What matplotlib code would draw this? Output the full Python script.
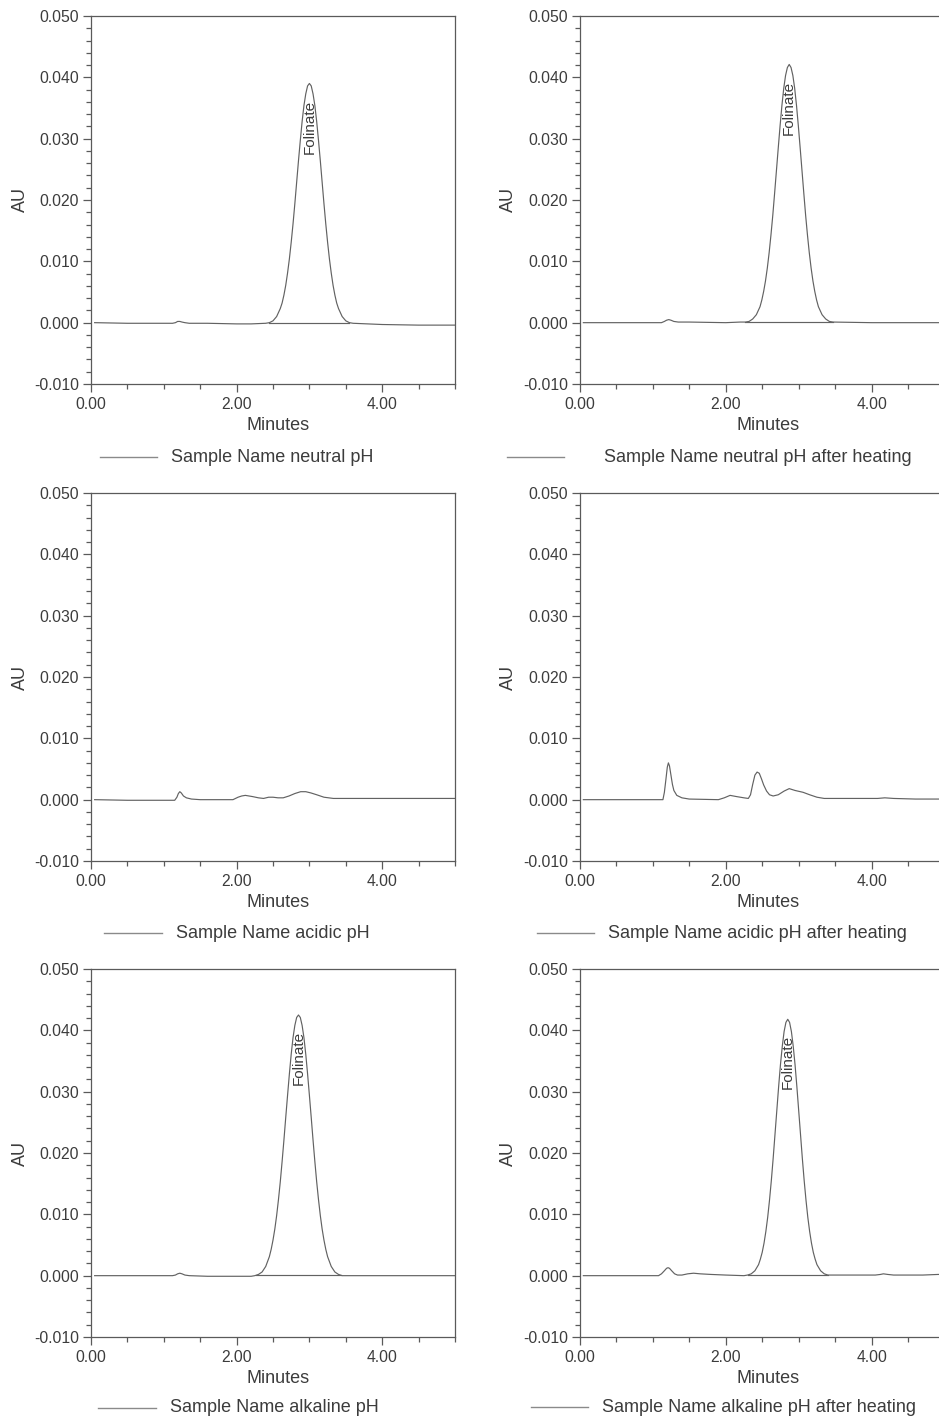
import numpy as np
import matplotlib
matplotlib.use("Agg")
import matplotlib.pyplot as plt
from matplotlib.lines import Line2D
from matplotlib.ticker import MultipleLocator, FormatStrFormatter

plt.rcParams['font.family'] = ['Liberation Sans', 'DejaVu Sans']

# ---------------- data ----------------
sample_names = ["neutral pH", "neutral pH after heating",
                "acidic pH", "acidic pH after heating",
                "alkaline pH", "alkaline pH after heating"]

# Panel 1: neutral pH
t_neutral = [0.05, 0.5, 1.0, 1.12, 1.16, 1.19, 1.22, 1.25, 1.29, 1.35, 1.6, 2.0, 2.2, 2.40,
             2.45, 2.50, 2.55, 2.60, 2.625, 2.65, 2.675, 2.70, 2.725, 2.75, 2.775, 2.80, 2.825,
             2.85, 2.875, 2.90, 2.925, 2.95, 2.975, 3.00,
             3.025, 3.05, 3.075, 3.10, 3.125, 3.15, 3.175, 3.20, 3.225, 3.25, 3.275, 3.30,
             3.325, 3.35, 3.375, 3.40, 3.45, 3.50, 3.55, 3.60,
             4.0, 4.5, 5.0]
au_neutral = [0.0000, -0.0001, -0.0001, -0.0001, 0.0000, 0.0002, 0.0002, 0.0001, 0.0000, -0.0001, -0.0001, -0.0002, -0.0002, -0.0001,
              0.0000, 0.0003, 0.0010, 0.0023, 0.0032, 0.0045, 0.0061, 0.0081, 0.0104, 0.0131, 0.0161, 0.0194, 0.0229,
              0.0264, 0.0297, 0.0328, 0.0354, 0.0373, 0.0386, 0.0390,
              0.0386, 0.0373, 0.0354, 0.0328, 0.0297, 0.0264, 0.0229, 0.0194, 0.0161, 0.0131, 0.0104, 0.0081,
              0.0061, 0.0045, 0.0032, 0.0023, 0.0010, 0.0003, 0.0000, -0.0001,
              -0.0003, -0.0004, -0.0004]

# Panel 2: neutral pH after heating
t_neutral_h = [0.05, 0.5, 1.0, 1.12, 1.16, 1.19, 1.22, 1.25, 1.29, 1.35, 1.5, 2.0, 2.2,
               2.27, 2.32, 2.37, 2.42, 2.47, 2.495, 2.52, 2.545, 2.57, 2.595, 2.62, 2.645, 2.67,
               2.695, 2.72, 2.745, 2.77, 2.795, 2.82, 2.845, 2.87,
               2.895, 2.92, 2.945, 2.97, 2.995, 3.02, 3.045, 3.07, 3.095, 3.12, 3.145, 3.17,
               3.195, 3.22, 3.245, 3.27, 3.32, 3.37, 3.42, 3.47,
               4.0, 4.5, 5.0]
au_neutral_h = [0.0000, 0.0000, 0.0000, 0.0000, 0.0002, 0.0004, 0.0005, 0.0004, 0.0002, 0.0001, 0.0001, 0.0000, 0.0001,
                0.0001, 0.0002, 0.0006, 0.0013, 0.0026, 0.0037, 0.0051, 0.0068, 0.0089, 0.0114, 0.0143, 0.0175, 0.0211,
                0.0248, 0.0285, 0.0321, 0.0354, 0.0382, 0.0403, 0.0416, 0.0421,
                0.0416, 0.0403, 0.0382, 0.0354, 0.0321, 0.0285, 0.0248, 0.0211, 0.0175, 0.0143, 0.0114, 0.0089,
                0.0068, 0.0051, 0.0037, 0.0026, 0.0013, 0.0006, 0.0002, 0.0001,
                0.0000, 0.0000, 0.0000]

# Panel 3: acidic pH
t_acidic = [0.05, 0.5, 1.0, 1.15, 1.18, 1.20, 1.22, 1.24, 1.27, 1.31, 1.38, 1.5, 1.8, 1.95,
            2.02, 2.07, 2.12, 2.17, 2.22, 2.30, 2.37, 2.44, 2.50, 2.57, 2.64, 2.72, 2.80, 2.88,
            2.95, 3.02, 3.10, 3.20, 3.33, 3.6, 4.0, 4.5, 5.0]
au_acidic = [0.0000, -0.0001, -0.0001, -0.0001, 0.0004, 0.0010, 0.0013, 0.0011, 0.0006, 0.0003, 0.0001, 0.0000, 0.0000, 0.0000,
             0.0004, 0.0006, 0.0007, 0.0006, 0.0005, 0.0003, 0.0002, 0.0004, 0.0004, 0.0003, 0.0003, 0.0006, 0.0010, 0.0013,
             0.0013, 0.0011, 0.0008, 0.0004, 0.0002, 0.0002, 0.0002, 0.0002, 0.0002]

# Panel 4: acidic pH after heating
t_acidic_h = [0.05, 1.0, 1.14, 1.16, 1.18, 1.20, 1.215, 1.23, 1.25, 1.27, 1.29, 1.33, 1.40, 1.5, 1.9,
              1.98, 2.06, 2.15, 2.25, 2.31, 2.34, 2.37, 2.40, 2.43, 2.46, 2.49, 2.52, 2.56, 2.60, 2.65,
              2.72, 2.80, 2.87, 2.95, 3.06, 3.15, 3.25, 3.35, 3.6, 4.08, 4.18, 4.3, 4.6, 5.0]
au_acidic_h = [0.0000, 0.0000, 0.0000, 0.0012, 0.0032, 0.0053, 0.0060, 0.0055, 0.0040, 0.0025, 0.0015, 0.0007, 0.0003, 0.0001, 0.0000,
               0.0003, 0.0007, 0.0005, 0.0003, 0.0002, 0.0008, 0.0025, 0.0040, 0.0045, 0.0043, 0.0034, 0.0024, 0.0014, 0.0008, 0.0006,
               0.0008, 0.0014, 0.0018, 0.0015, 0.0012, 0.0008, 0.0004, 0.0002, 0.0002, 0.0002, 0.0003, 0.0002, 0.0001, 0.0001]

# Panel 5: alkaline pH
t_alkaline = [0.05, 0.5, 1.0, 1.12, 1.16, 1.19, 1.22, 1.25, 1.29, 1.35, 1.6, 2.0, 2.2,
              2.25, 2.30, 2.35, 2.40, 2.45, 2.475, 2.50, 2.525, 2.55, 2.575, 2.60, 2.625, 2.65,
              2.675, 2.70, 2.725, 2.75, 2.775, 2.80, 2.825, 2.85,
              2.875, 2.90, 2.925, 2.95, 2.975, 3.00, 3.025, 3.05, 3.075, 3.10, 3.125, 3.15,
              3.175, 3.20, 3.225, 3.25, 3.30, 3.35, 3.40, 3.45,
              4.0, 4.5, 5.0]
au_alkaline = [0.0000, 0.0000, 0.0000, 0.0000, 0.0001, 0.0003, 0.0004, 0.0003, 0.0001, 0.0000, -0.0001, -0.0001, -0.0001,
               0.0000, 0.0002, 0.0006, 0.0015, 0.0031, 0.0043, 0.0058, 0.0076, 0.0098, 0.0124, 0.0153, 0.0186, 0.0221,
               0.0258, 0.0294, 0.0329, 0.0361, 0.0388, 0.0408, 0.0421, 0.0425,
               0.0421, 0.0408, 0.0388, 0.0361, 0.0329, 0.0294, 0.0258, 0.0221, 0.0186, 0.0153, 0.0124, 0.0098,
               0.0076, 0.0058, 0.0043, 0.0031, 0.0015, 0.0006, 0.0002, 0.0000,
               0.0000, 0.0000, 0.0000]

# Panel 6: alkaline pH after heating
t_alkaline_h = [0.05, 1.0, 1.08, 1.12, 1.16, 1.19, 1.21, 1.23, 1.26, 1.30, 1.34, 1.40, 1.48, 1.56, 1.65, 1.8, 2.0, 2.25,
                2.30, 2.35, 2.40, 2.45, 2.475, 2.50, 2.525, 2.55, 2.575, 2.60, 2.625, 2.65,
                2.675, 2.70, 2.725, 2.75, 2.775, 2.80, 2.825, 2.85,
                2.875, 2.90, 2.925, 2.95, 2.975, 3.00, 3.025, 3.05, 3.075, 3.10, 3.125, 3.15,
                3.175, 3.20, 3.225, 3.25, 3.30, 3.35, 3.40,
                3.5, 4.05, 4.12, 4.16, 4.22, 4.3, 4.7, 4.91, 5.0]
au_alkaline_h = [0.0000, 0.0000, 0.0000, 0.0003, 0.0008, 0.0012, 0.0013, 0.0012, 0.0008, 0.0003, 0.0001, 0.0001, 0.0003, 0.0004, 0.0003, 0.0002, 0.0001, 0.0000,
                 0.0001, 0.0003, 0.0008, 0.0018, 0.0027, 0.0038, 0.0053, 0.0072, 0.0095, 0.0123, 0.0155, 0.0191,
                 0.0230, 0.0269, 0.0308, 0.0344, 0.0374, 0.0398, 0.0413, 0.0418,
                 0.0413, 0.0398, 0.0374, 0.0344, 0.0308, 0.0269, 0.0230, 0.0191, 0.0155, 0.0123, 0.0095, 0.0072,
                 0.0053, 0.0038, 0.0027, 0.0018, 0.0008, 0.0003, 0.0001,
                 0.0001, 0.0001, 0.0002, 0.0003, 0.0002, 0.0001, 0.0001, 0.0002, 0.0002]

# Integration window of the labelled peak (start, end) in minutes; None = no labelled peak
peak_windows = [(2.45, 3.55), (2.27, 3.47), None, None, (2.27, 3.43), (2.30, 3.40)]
peak_label = "Folinate"

times = [t_neutral, t_neutral_h, t_acidic, t_acidic_h, t_alkaline, t_alkaline_h]
values = [au_neutral, au_neutral_h, au_acidic, au_acidic_h, au_alkaline, au_alkaline_h]

# ---------------- layout ----------------
W, H = 939, 1422
fig = plt.figure(figsize=(W / 100, H / 100), dpi=100)

col_left = [91, 579.7]
col_width = [364, 365]
row_top = [16, 493, 969]
row_h = 368

# legend geometry (px): line x0, x1, text x, y
legend_geom = [(100, 157, 171, 457), (507, 564, 604, 457),
               (104, 162, 176, 933), (537, 594, 608, 933),
               (98, 156, 170, 1408), (531, 588, 602, 1407)]

TXT = '#3c3c3c'
AXC = '#5a5a5a'
LINEC = '#626262'

for i in range(6):
    r, c = divmod(i, 2)
    left = col_left[c] / W
    bottom = 1 - (row_top[r] + row_h) / H
    ax = fig.add_axes([left, bottom, col_width[c] / W, row_h / H])

    t = np.array(times[i])
    y = np.array(values[i])
    ax.plot(t, y, color=LINEC, lw=0.85)

    if peak_windows[i] is not None:
        s, e = peak_windows[i]
        ax.plot([s, e], [np.interp(s, t, y), np.interp(e, t, y)], color=LINEC, lw=0.85)
        k = int(np.argmax(y))
        ax.text(t[k], y[k] - 0.0026, peak_label, rotation=90, ha='center', va='top',
                fontsize=11, color=TXT)

    ax.set_xlim(0, 5)
    ax.set_ylim(-0.010, 0.050)
    ax.xaxis.set_major_locator(MultipleLocator(2))
    ax.xaxis.set_minor_locator(MultipleLocator(0.5))
    ax.yaxis.set_major_locator(MultipleLocator(0.010))
    ax.yaxis.set_minor_locator(MultipleLocator(0.002))
    ax.xaxis.set_major_formatter(FormatStrFormatter('%.2f'))
    ax.yaxis.set_major_formatter(FormatStrFormatter('%.3f'))
    ax.tick_params(which='major', direction='out', length=6, width=0.9, color=AXC,
                   labelsize=11.3, labelcolor=TXT, pad=2.5)
    ax.tick_params(which='minor', direction='out', length=3.3, width=0.9, color=AXC)
    ax.tick_params(axis='x', which='major', pad=3.5)
    for sp in ax.spines.values():
        sp.set_color(AXC)
        sp.set_linewidth(0.9)

    ax.set_xlabel('Minutes', fontsize=13, color=TXT)
    ax.xaxis.set_label_coords(0.515, -0.114)
    ax.xaxis.label.set_va('center')
    ax.set_ylabel('AU', fontsize=13, color=TXT)
    ax.yaxis.set_label_coords(-71 / col_width[c], 0.5)
    ax.yaxis.label.set_va('center')

    x0, x1, xt, yl = legend_geom[i]
    fig.add_artist(Line2D([x0 / W, x1 / W], [1 - yl / H, 1 - yl / H],
                          color='#8a8a8a', lw=1.0, transform=fig.transFigure))
    fig.text(xt / W, 1 - yl / H, 'Sample Name ' + sample_names[i], fontsize=13,
             color=TXT, ha='left', va='center')

fig.savefig('out.png', dpi=100)
